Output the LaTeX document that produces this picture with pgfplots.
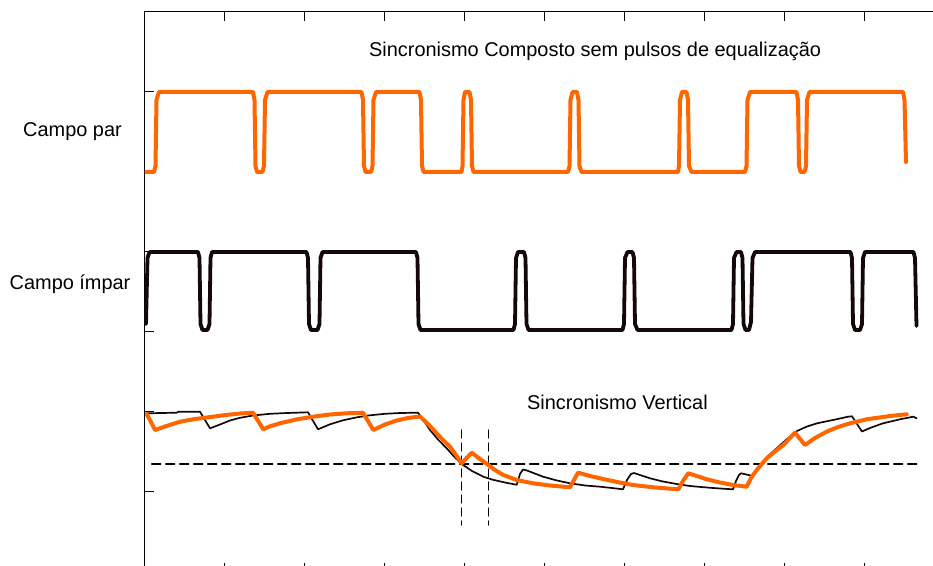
\documentclass[border=0pt]{standalone}
\usepackage{pgfplots}
\pgfplotsset{compat=1.18}
\usepackage{fontspec}
\setmainfont{Liberation Sans}
\definecolor{sincorange}{RGB}{255,102,0}
\definecolor{sincblack}{RGB}{20,8,8}

\begin{document}
\begin{tikzpicture}
\begin{axis}[
  x=1bp, y=1bp, y dir=reverse,
  xmin=144.5, xmax=944.5, ymin=11.7, ymax=571.7,
  axis line style={line width=0.8bp},
  xtick={224.5,304.5,...,864.5}, ytick={91.7,171.7,...,491.7},
  xticklabels={}, yticklabels={},
  tick align=inside, tick pos=both, major tick length=9bp,
  tick style={line width=0.8bp, black},
  no markers, clip=false,
  every axis plot/.append style={line join=round, line cap=round},
]
\coordinate (bbA) at (axis cs:0,566);
\coordinate (bbB) at (axis cs:933,0);

% Campo par
\addplot[sincorange, line width=4bp] coordinates {
(146.5,172)(154,172)(155.5,166)(156.5,100)(159,92)
(253,92)(254.5,100)(255.5,166)(257,172)(262.5,172)(264,166)(265,100)(267.5,92)
(361.5,92)(363,100)(364,166)(365.5,172)(371,172)(372.5,166)(373.5,100)(376,92)
(419.5,92)(421,100)(422,166)(423.5,172)
(461.5,172)(462.5,166)(463.5,100)(465,92)(469.5,92)(471,100)(472,166)(473.5,172)
(568,172)(569.5,166)(570.5,100)(572.5,92)(577,92)(578.5,100)(579.5,166)(581.5,172)
(678,172)(679,166)(680,100)(682,92)(686.5,92)(688,100)(689,166)(691.5,172)
(745,172)(746.5,166)(747.5,100)(750,92)
(796.5,92)(798,100)(799,166)(800.5,172)(804.5,172)(806,166)(807,100)(809.5,92)
(903,92)(904.5,100)(906,162)
};

% Campo impar
\addplot[sincblack, line width=3.8bp] coordinates {
(146,324)(147.5,258)(149.5,252)
(198,252)(199.5,258)(200.5,324)(202.5,330)(207.5,330)(209.5,324)(210.5,258)(212,252)
(306.5,252)(308,258)(309,324)(311,330)(317.5,330)(319.5,324)(320.5,258)(322.5,252)
(416,252)(417.5,258)(418.5,324)(420.5,330)
(513.5,330)(515,324)(516,258)(518,252)(524,252)(525.5,258)(526.5,324)(528.5,330)
(622.5,330)(624,324)(625,258)(627.5,252)(632.5,252)(634,258)(635,324)(637.5,330)
(731.5,330)(733,324)(734,258)(736.5,252)(741,252)(742.5,258)(743.5,324)(745.5,330)(749,330)(751,322)(752.5,258)(755,252)
(850.5,252)(852,258)(853,324)(855,330)(860,330)(862,324)(863,258)(865,252)
(913.5,252)(915,258)(916.5,326)
};

% reference levels
\addplot[black, line width=1.3bp, dash pattern=on 9bp off 5bp] coordinates {(151.7,464)(916.7,464)};
\addplot[black, line width=1.3bp, dash pattern=on 8bp off 5bp] coordinates {(461.7,430)(461.7,525)};
\addplot[black, line width=1.3bp, dash pattern=on 8bp off 5bp] coordinates {(488.3,430)(488.3,525)};

% integrated, campo impar
\addplot[sincblack, line width=1.7bp] coordinates {
(146.5,413.3)(176.5,412.7)(178.5,411.7)(200,411.7)(210,428.3)(220,424.5)(230,420.5)(240,417.8)(253,415.5)(270,413.8)(287,413)(308,412.3)
(318,429.3)(330,424.3)(343,420.3)(357,417.3)(370,415.3)(385,413.8)(400,413)(418,412.7)
(424,421)(430,430)(438,439.5)(446.7,448.3)(454,456.5)(461.7,464)(472,471)(483.3,476.7)(493,479.8)(505,482.5)(516.7,484.8)
(520,474)(523,469.5)(527,470.5)(543,476.7)(557,480.5)(570,483.3)(585,485.5)(600,486.7)(612,488)(623,489.3)
(627,480)(631,474)(634,473)(650,478.3)(663,481.5)(676.7,484)(690,486)(706.7,487.5)(720,488.5)(733,489.3)
(736,481)(739,475)(741,473.3)(753,476)(760,466)(768,456)(777,448)(787,439)(797,431)(807,426.5)(817,423.3)(833,420)(848,416.7)(852,416.3)
(862,431.5)(870,428)(883,423.3)(900,419.3)(913.3,416.7)(916.7,418.3)
};

% integrated, campo par
\addplot[sincorange, line width=4bp] coordinates {
(146.7,414)(150,420)(155,430)(165,426.5)(180,421.7)(195,419)(213,416.7)(226,415)(240,413.5)(253,412.7)
(263.3,429.3)(270,426.3)(280,423.3)(296,419.5)(313,416.7)(330,414.5)(346.7,413.3)(363,412.7)
(373.3,430)(385,424.5)(396.7,420.5)(408,418)(420,416.5)
(428,424)(436.7,433.3)(443,440)(450,446.7)(456,455)(461.7,463.3)
(471.7,452.7)(480,459)(488.3,465)(495,470)(503.3,475)(516.7,480)(533,483.3)(550,485.5)(570,487.3)
(574,480)(578,472.7)(590,476)(600,478.3)(617,482)(633,485)(655,487.5)(678.3,489.3)
(683,481)(688.3,473.3)(700,477)(706.7,479.3)(720,482.5)(733,485)(746.7,486.7)
(751,478)(756.7,470)(766.7,458.3)(775,451.5)(783.3,445)(790,438)(795,432.7)
(805,445)(815,438)(826.7,431.7)(838,427)(850,423.3)(866.7,419.3)(890,416)(906.7,414.3)
};

\node[anchor=base west, inner sep=0pt, font=\fontsize{20}{24}\selectfont] at (axis cs:369,56.5) {Sincronismo Composto sem pulsos de equalização};
\node[anchor=base west, inner sep=0pt, font=\fontsize{20}{24}\selectfont] at (axis cs:23,136.5) {Campo par};
\node[anchor=base west, inner sep=0pt, font=\fontsize{20}{24}\selectfont] at (axis cs:9.5,289.5) {Campo ímpar};
\node[anchor=base west, inner sep=0pt, font=\fontsize{20}{24}\selectfont] at (axis cs:527,409.3) {Sincronismo Vertical};
\end{axis}
\pgfresetboundingbox
\useasboundingbox (bbA) rectangle (bbB);
\end{tikzpicture}
\end{document}
